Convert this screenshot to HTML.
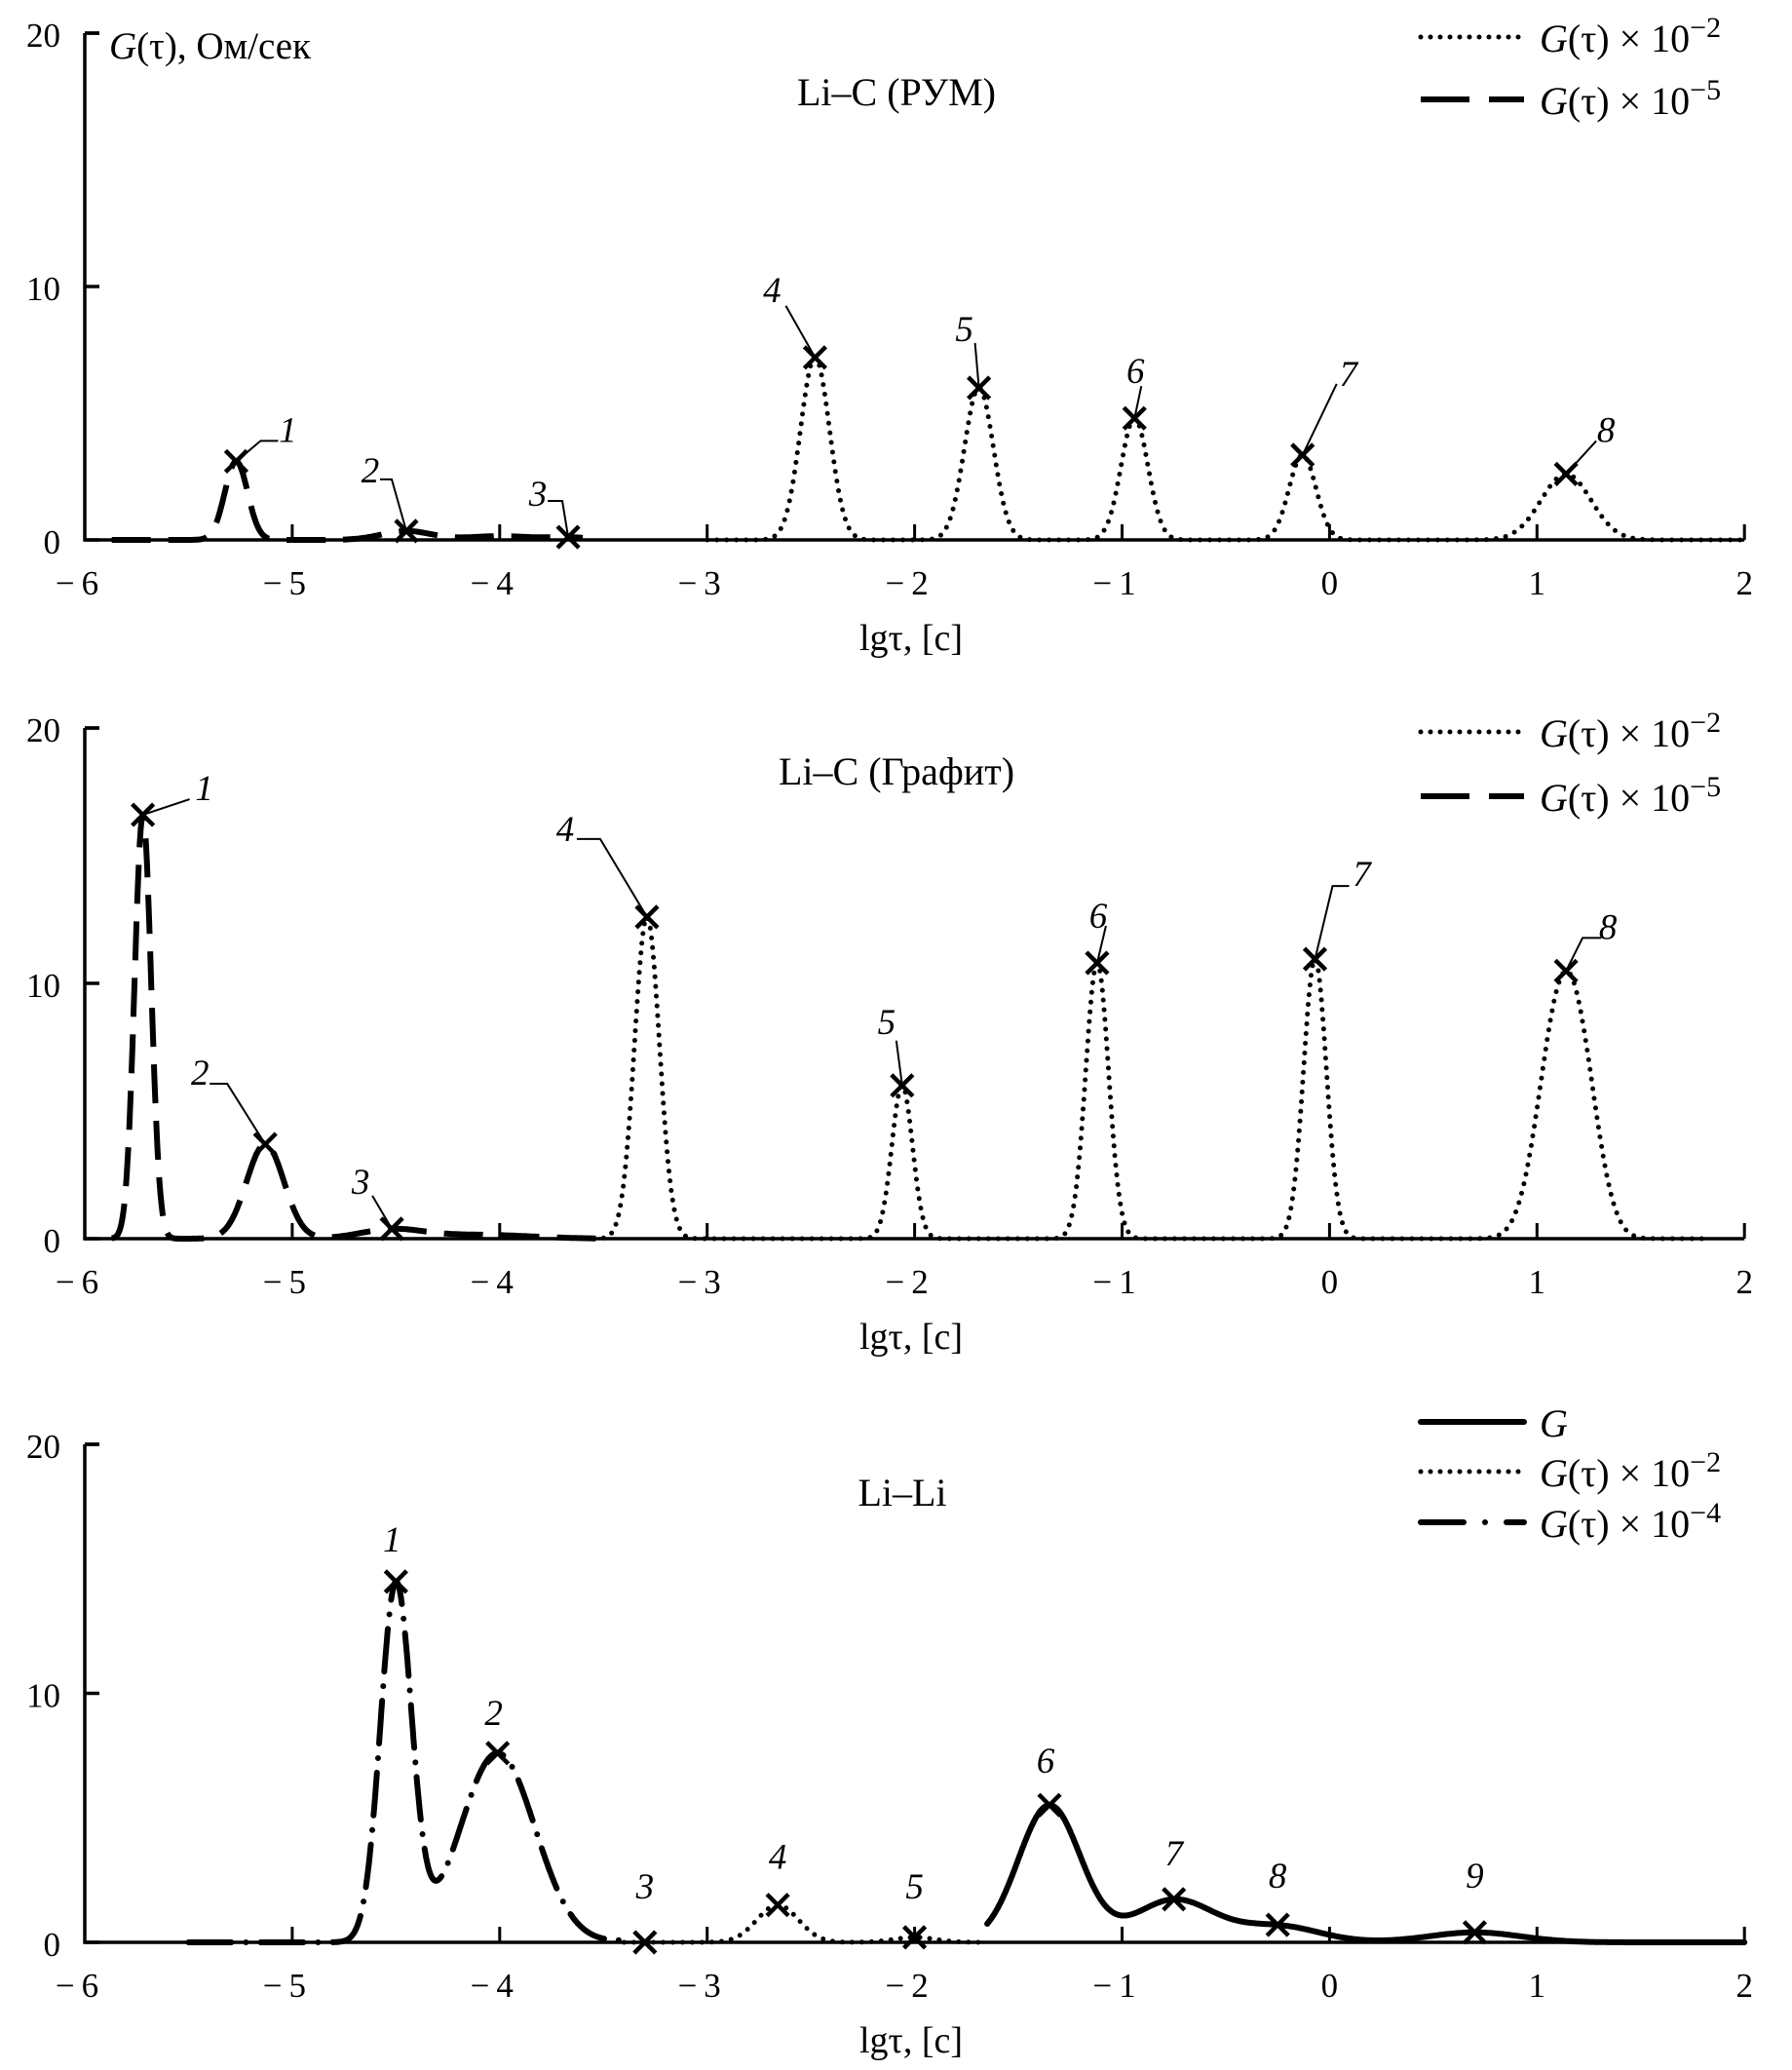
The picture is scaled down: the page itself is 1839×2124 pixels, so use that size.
<!DOCTYPE html>
<html><head><meta charset="utf-8"><style>
html,body{margin:0;padding:0;background:#fff}
svg{display:block}
text{font-family:"Liberation Serif","Noto Serif CJK SC",serif;fill:#000}
</style></head><body>
<svg id="chart" width="1839" height="2124" viewBox="0 0 1839 2124" xmlns="http://www.w3.org/2000/svg"></svg>
<script>
// ---- shared axis data ----
const xTicks = [-6,-5,-4,-3,-2,-1,0,1,2];
const xTickLabels = ['\u22126','\u22125','\u22124','\u22123','\u22122','\u22121','0','1','2'];
const yTicks = [0,10,20];
const yTickLabels = ['0','10','20'];

// ---- panel 1: Li–C (РУМ) ----
const p1DashRange = [-5.87,-3.6];
const p1DashPeakX = [-5.27,-4.45,-4.0,-3.67];
const p1DashPeakY = [3.1,0.35,0.15,0.1];
const p1DashPeakW = [0.055,0.12,0.15,0.1];
const p1DotRange = [-3.0,2.0];
const p1DotPeakX = [-2.48,-1.69,-0.94,-0.13,1.14];
const p1DotPeakY = [7.2,6.0,4.8,3.35,2.6];
const p1DotPeakW = [0.07,0.07,0.065,0.065,0.12];
const p1MarkX = [-5.27,-4.45,-3.67,-2.48,-1.69,-0.94,-0.13,1.14];
const p1MarkLabels = ['1','2','3','4','5','6','7','8'];

// ---- panel 2: Li–C (Графит) ----
const p2DashRange = [-5.87,-3.5];
const p2DashPeakX = [-5.72,-5.13,-4.52,-4.1];
const p2DashPeakY = [16.6,3.7,0.35,0.15];
const p2DashPeakW = [0.04,0.09,0.15,0.25];
const p2DotRange = [-3.5,1.8];
const p2DotPeakX = [-3.29,-2.06,-1.12,-0.07,1.1,1.22];
const p2DotPeakY = [12.6,6.0,10.8,10.95,8.0,4.6];
const p2DotPeakW = [0.06,0.05,0.055,0.055,0.1,0.09];
const p2MarkX = [-5.72,-5.13,-4.52,-3.29,-2.06,-1.12,-0.07,1.14];
const p2MarkLabels = ['1','2','3','4','5','6','7','8'];

// ---- panel 3: Li–Li ----
const p3DashDotRange = [-5.5,-3.4];
const p3DashDotPeakX = [-4.5,-4.01,-3.3];
const p3DashDotPeakY = [14.3,7.6,0.1];
const p3DashDotPeakW = [0.075,0.18,0.1];
const p3DotRange = [-3.4,-1.65];
const p3DotPeakX = [-2.66,-2.0];
const p3DotPeakY = [1.5,0.2];
const p3DotPeakW = [0.1,0.1];
const p3SolidRange = [-1.65,2.0];
const p3SolidPeakX = [-1.35,-0.75,-0.25,0.7];
const p3SolidPeakY = [5.5,1.7,0.65,0.4];
const p3SolidPeakW = [0.15,0.19,0.2,0.22];
const p3MarkX = [-4.5,-4.01,-3.3,-2.66,-2.0,-1.35,-0.75,-0.25,0.7];
const p3MarkLabels = ['1','2','3','4','5','6','7','8','9'];

// ---- layout (not data) ----
const NS='http://www.w3.org/2000/svg';
const svg=document.getElementById('chart');
const X0=87, XU=212.9;
function X(v){return X0+(v+6)*XU;}
const STY={
 dash:{w:6,da:'40 18',cap:'butt'},
 dot:{w:5,da:'0 10',cap:'round'},
 dashdot:{w:6,da:'44 15 0 15',cap:'round'},
 solid:{w:6,da:'',cap:'round'}
};
const LBL1=[[53,-33,[[25,-21],[43,-21]]],[-37,-63,[[-15,-53],[-27,-53]]],[-31,-45,[[-6,-37],[-21,-37]]],[-44,-70,[[-30,-53]]],[-15,-61,[[-4,-46]]],[1,-49,[[7,-33]]],[47,-84,[[35,-73]]],[41,-46,[[31,-34]]]];
const LBL2=[[63,-28,[[48,-16]]],[-67,-74,[[-39,-62],[-57,-62]]],[-32,-49,[[-20,-34]]],[-84,-91,[[-48,-80],[-72,-80]]],[-16,-66,[[-6,-46]]],[1,-49,[[9,-38]]],[48,-88,[[18,-75],[35,-75]]],[43,-46,[[17,-34],[36,-34]]]];
const LBL3=[[-4,-44,[]],[-4,-42,[]],[0,-58,[]],[0,-50,[]],[0,-53,[]],[-4,-46,[]],[0,-48,[]],[0,-51,[]],[0,-59,[]]];

function el(tag,attrs,parent){const e=document.createElementNS(NS,tag);for(const k in attrs)e.setAttribute(k,attrs[k]);(parent||svg).appendChild(e);return e;}
function gsum(v,px,py,pw){let s=0;for(let i=0;i<px.length;i++){const d=(v-px[i])/pw[i];s+=py[i]*Math.exp(-0.5*d*d);}return s;}

function panel(cfg){
 const g=el('g',{});
 
 
 const Y=v=>cfg.y0-v*cfg.yu;
 const ax=el('path',{d:`M${X(-6)},${Y(20)} H${X(-6)+15} M${X(-6)},${Y(20)} V${Y(0)} H${X(2)}`,stroke:'#000','stroke-width':3.5,fill:'none'},g);
 
 
 yTicks.forEach((t,i)=>{
  const tk=el('line',{x1:X(-6),x2:X(-6)+15,y1:Y(t),y2:Y(t),stroke:'#000','stroke-width':3.5},g);
  
  
  const tl=el('text',{x:62,y:Y(t)+14,'text-anchor':'end','font-size':35},g);
  
  
  tl.textContent=yTickLabels[i];
 });
 xTicks.forEach((t,i)=>{
  if(i>0){const tk=el('line',{x1:X(t),x2:X(t),y1:Y(0),y2:Y(0)-16,stroke:'#000','stroke-width':3},g);
  
  }
  const lab=xTickLabels[i];
  const tl=el('text',{x:X(t)+(lab.length>1?-8:0),y:Y(0)+56,'text-anchor':'middle','font-size':35,'xml:space':'preserve'},g);
  
  
  tl.textContent=lab.length>1?lab[0]+'\u2009'+lab.slice(1):lab;
 });
 const xt=el('text',{x:935,y:Y(0)+113,'text-anchor':'middle','font-size':38},g);
 
 
 xt.textContent='lg\u03C4, [\u0441]';
 const tt=el('text',{x:cfg.titleX,y:cfg.titleY,'text-anchor':'middle','font-size':40},g);
 
 
 tt.textContent=cfg.title;
 const all=[];
 cfg.series.forEach(s=>{
  all.push(s);
  let d='';
  for(let v=s.range[0];v<=s.range[1]+1e-9;v+=0.005){
   d+=(d?'L':'M')+X(v).toFixed(1)+','+Y(gsum(v,s.px,s.py,s.pw)).toFixed(1);
  }
  const st=STY[s.style];
  const p=el('path',{d:d,fill:'none',stroke:'#000','stroke-width':st.w,'stroke-dasharray':st.da,'stroke-linecap':st.cap,'stroke-linejoin':'round'},g);
  
  
 });
 cfg.markX.forEach((mx,i)=>{
  let val=0;all.forEach(s=>{if(mx>=s.range[0]-0.01&&mx<=s.range[1]+0.01)val=Math.max(val,gsum(mx,s.px,s.py,s.pw));});
  const cx=X(mx),cy=Y(val),r=11;
  const m=el('path',{d:`M${cx-r},${cy-r}L${cx+r},${cy+r}M${cx-r},${cy+r}L${cx+r},${cy-r}`,stroke:'#000','stroke-width':4.5,fill:'none'},g);
  
  
  const L=cfg.lbl[i];
  if(L[2].length){
   let d=`M${cx},${cy}`;L[2].forEach(p=>{d+=`L${cx+p[0]},${cy+p[1]}`;});
   const ln=el('path',{d:d,stroke:'#000','stroke-width':2,fill:'none'},g);
   
   
  }
  const t=el('text',{x:cx+L[0],y:cy+L[1]+13,'text-anchor':'middle','font-size':37,'font-style':'italic'},g);
  
  
  t.textContent=cfg.markLabels[i];
 });
 cfg.legend.forEach(L=>{
  const st=STY[L.style];
  const ln=el('line',{x1:1458,x2:1564,y1:L.y,y2:L.y,stroke:'#000','stroke-width':st.w,'stroke-dasharray':L.style==='dash'?'50 20':(L.style==='dashdot'?'44 22 0 22':st.da),'stroke-linecap':st.cap},g);
  
  
  const t=el('text',{x:1580,y:L.y+15,'font-size':40,'xml:space':'preserve'},g);
  
  
  if(L.exp){
   t.innerHTML='<tspan font-style="italic">G</tspan>(\u03C4) \u00D7 10<tspan dy="-15" font-size="30">\u2212'+L.exp+'</tspan>';
  } else {
   t.innerHTML='<tspan font-style="italic">G</tspan>';
  }
 });
}

panel({name:'panel-li-c-rum',y0:554,yu:26.0,title:'Li\u2013C (\u0420\u0423\u041C)',titleX:920,titleY:108,
 series:[{name:'series-x1e-5',style:'dash',range:p1DashRange,px:p1DashPeakX,py:p1DashPeakY,pw:p1DashPeakW},
         {name:'series-x1e-2',style:'dot',range:p1DotRange,px:p1DotPeakX,py:p1DotPeakY,pw:p1DotPeakW}],
 markX:p1MarkX,markLabels:p1MarkLabels,lbl:LBL1,
 legend:[{style:'dot',y:38,exp:'2'},{style:'dash',y:102,exp:'5'}]});
panel({name:'panel-li-c-graphite',y0:1271,yu:26.2,title:'Li\u2013C (\u0413\u0440\u0430\u0444\u0438\u0442)',titleX:920,titleY:805,
 series:[{name:'series-x1e-5',style:'dash',range:p2DashRange,px:p2DashPeakX,py:p2DashPeakY,pw:p2DashPeakW},
         {name:'series-x1e-2',style:'dot',range:p2DotRange,px:p2DotPeakX,py:p2DotPeakY,pw:p2DotPeakW}],
 markX:p2MarkX,markLabels:p2MarkLabels,lbl:LBL2,
 legend:[{style:'dot',y:751,exp:'2'},{style:'dash',y:817,exp:'5'}]});
panel({name:'panel-li-li',y0:1993,yu:25.55,title:'Li\u2013Li',titleX:926,titleY:1545,
 series:[{name:'series-x1e-4',style:'dashdot',range:p3DashDotRange,px:p3DashDotPeakX,py:p3DashDotPeakY,pw:p3DashDotPeakW},
         {name:'series-x1e-2',style:'dot',range:p3DotRange,px:p3DotPeakX,py:p3DotPeakY,pw:p3DotPeakW},
         {name:'series-g',style:'solid',range:p3SolidRange,px:p3SolidPeakX,py:p3SolidPeakY,pw:p3SolidPeakW}],
 markX:p3MarkX,markLabels:p3MarkLabels,lbl:LBL3,
 legend:[{style:'solid',y:1459,exp:''},{style:'dot',y:1510,exp:'2'},{style:'dashdot',y:1562,exp:'4'}]});

const yt=el('text',{x:112,y:60,'font-size':39});


yt.innerHTML='<tspan font-style="italic">G</tspan>(\u03C4), \u041E\u043C/\u0441\u0435\u043A';
</script>
</body></html>
